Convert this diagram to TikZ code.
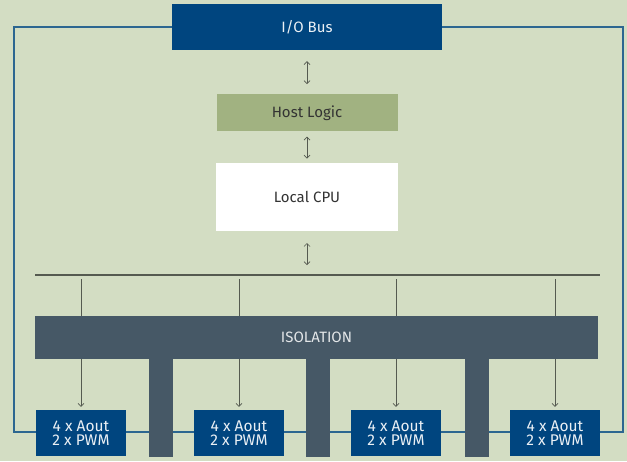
\documentclass[tikz,border=0pt]{standalone}
\usepackage{fontspec}
\setmainfont{Fira Sans}
\usetikzlibrary{arrows.meta,positioning,backgrounds}
\definecolor{bgreen}{HTML}{D3DDC3}
\definecolor{busblue}{HTML}{00457F}
\definecolor{hostgreen}{HTML}{A1B281}
\definecolor{isogray}{HTML}{465866}
\definecolor{frameblue}{HTML}{2C6690}
\definecolor{wire}{HTML}{555A50}

\begin{document}
\begin{tikzpicture}[
  x=1pt,y=-1pt,
  node distance=44pt and 0pt,
  box/.style={inner sep=0pt,align=center,font=\fontsize{15}{15}\selectfont},
  bus/.style={box,fill=busblue,text=white!92!busblue,minimum width=270pt,minimum height=46pt},
  host/.style={box,fill=hostgreen,text=black!80,minimum width=181pt,minimum height=37pt},
  cpu/.style={box,fill=white,text=black!80,minimum width=182pt,minimum height=68pt},
  iso/.style={box,fill=isogray,text=white!85!isogray,minimum width=563pt,minimum height=43pt},
  stem/.style={fill=isogray,minimum width=24pt,minimum height=98pt,inner sep=0pt},
  outbox/.style={box,fill=busblue,text=white!92!busblue,minimum width=90pt,minimum height=46pt,
    font=\fontsize{15.5}{14}\selectfont},
  dbl/.style={{Straight Barb[length=3pt,width=6pt]}-{Straight Barb[length=3pt,width=6pt]},wire,line width=0.7pt},
  arr/.style={-{Straight Barb[length=3pt,width=6pt]},wire,line width=0.7pt},
  tap/.style={wire,line width=0.7pt},
  frame/.style={draw=frameblue,line width=1.2pt}]
  \fill[bgreen] (0,0) rectangle (627,461);
  \useasboundingbox (0,0) rectangle (627,461);
  % outer frame behind everything
  \draw[frame] (14,27) rectangle (623,432);
  \node[bus] (io) at (307,27) {I/O Bus};
  \node[host,below=44pt of io] (hlog) {Host Logic};
  \node[cpu,below=31pt of hlog] (lcpu) {Local CPU};
  \coordinate (bus) at (307,275);
  \draw[wire,line width=1.3pt] (35,275) -- (600,275);
  \node[iso] (isol) at (316.5,337.5) {ISOLATION};
  \foreach \i/\x in {1/161,2/318,3/477}
    \node[stem] (stem\i) at (\x,408) {};
  \foreach \i/\x in {1/81,2/239,3/396,4/555} {
    \node[outbox] (out\i) at (\x,433) {4 x Aout\\2 x PWM};
    \draw[tap,shorten <=4pt] (out\i |- bus) -- (out\i |- isol.north);
    \draw[arr,shorten >=3pt] (out\i |- isol.south) -- (out\i.north);
  }
  \draw[dbl,shorten <=11pt,shorten >=10pt] (io.south) -- (hlog.north);
  \draw[dbl,shorten <=5pt,shorten >=4pt] (hlog.south) -- (hlog.south |- lcpu.north);
  \draw[dbl,shorten <=12pt,shorten >=10pt] (lcpu.south -| bus) -- (bus);
\end{tikzpicture}
\end{document}
